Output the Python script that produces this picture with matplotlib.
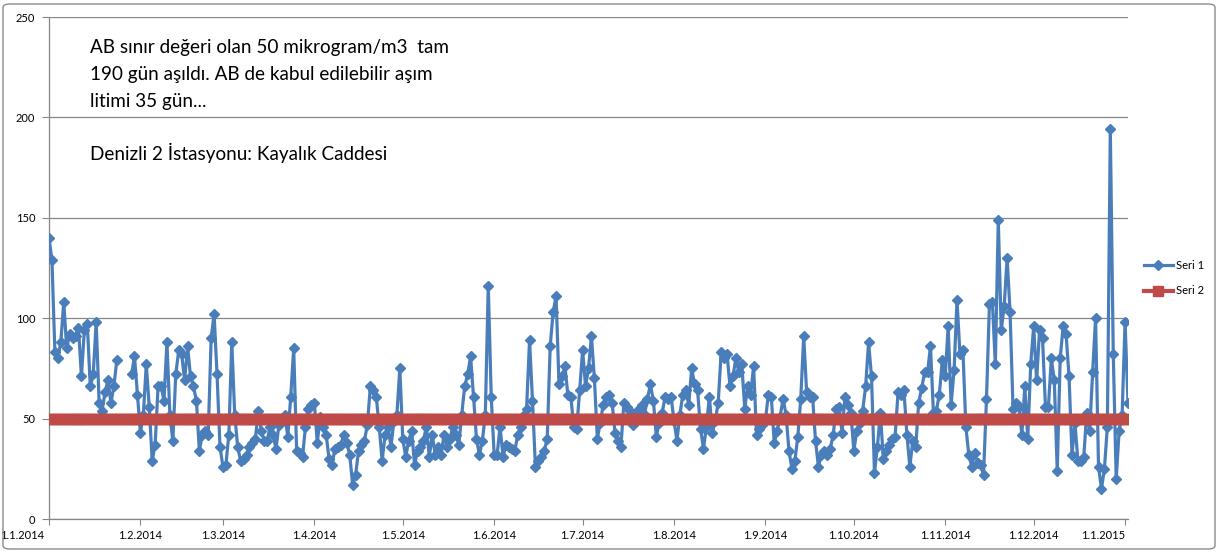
import datetime as dt
import numpy as np
import matplotlib
matplotlib.use("Agg")
import matplotlib.pyplot as plt
import matplotlib.dates as mdates
import matplotlib.transforms as mtransforms
from matplotlib.patches import FancyBboxPatch

# daily PM10 values (ug/m3); None = no data
pm_jan14 = [140, 129, 83, 80, 88, 108, 85, 92, 90, 91, 95, 71, 94, 97, 66, 72, 98, 58, 54, 63,
            69, 58, 66, 79, None, None, None, None, 72, 81, 62]
pm_feb14 = [43, 52, 77, 56, 29, 37, 66, 66, 59, 88, 52, 39, 72, 84, 82, 69, 86, 71, 66, 59,
            34, 42, 44, 42, 90, 102, 72, 36]
pm_mar14 = [26, 27, 42, 88, 52, 36, 29, 30, 32, 36, 38, 40, 54, 44, 39, 39, 46, 42, 35, 47,
            50, 52, 41, 61, 85, 34, 33, 31, 46, 55, 57]
pm_apr14 = [58, 38, 51, 46, 42, 30, 27, 35, 36, 37, 42, 38, 32, 17, 22, 34, 37, 39, 47, 66,
            64, 61, 46, 29, 42, 46, 36, 49, 52, 75]
pm_may14 = [40, 31, 39, 44, 27, 34, 36, 39, 46, 31, 42, 32, 36, 32, 42, 36, 40, 46, 42, 37,
            52, 66, 72, 81, 61, 40, 32, 39, 52, 116, 61]
pm_jun14 = [32, 32, 46, 31, 37, 36, 35, 34, 42, 46, 52, 55, 89, 59, 26, 29, 31, 34, 40, 86,
            103, 111, 67, 71, 76, 62, 61, 46, 45, 64]
pm_jul14 = [84, 66, 75, 91, 70, 40, 48, 57, 61, 62, 58, 43, 39, 36, 58, 56, 54, 47, 53, 55,
            57, 52, 60, 67, 59, 41, 48, 53, 61, 60, 61]
pm_aug14 = [49, 39, 52, 62, 64, 57, 75, 67, 64, 45, 35, 46, 61, 43, 49, 58, 83, 80, 82, 66,
            71, 80, 73, 77, 55, 66, 62, 76, 42, 45, 47]
pm_sep14 = [49, 62, 61, 38, 44, 51, 60, 52, 34, 25, 29, 41, 60, 91, 63, 61, 61, 39, 26, 32,
            34, 32, 35, 42, 55, 56, 43, 61, 57, 53]
pm_oct14 = [34, 44, 48, 54, 66, 88, 71, 23, 36, 53, 30, 34, 37, 40, 41, 63, 62, 64, 42, 26,
            39, 36, 58, 65, 73, 73, 86, 53, 54, 62, 79]
pm_nov14 = [71, 96, 57, 74, 109, 82, 84, 46, 32, 26, 33, 28, 27, 22, 60, 107, 108, 77, 149, 94,
            106, 130, 103, 55, 58, 56, 42, 66, 40, 77]
pm_dec14 = [96, 69, 94, 90, 56, 56, 80, 69, 24, 80, 96, 92, 71, 32, 48, 29, 29, 31, 53, 44,
            73, 100, 26, 15, 25, 46, 194, 82, 20, 44, 52]
pm_jan15 = [98, 58]

limit_value = 50  # EU daily limit (Seri 2)

text_lines = ["AB sınır değeri olan 50 mikrogram/m3  tam",
              "190 gün aşıldı. AB de kabul edilebilir aşım",
              "litimi 35 gün..."]
station = "Denizli 2 İstasyonu: Kayalık Caddesi"

values = (pm_jan14 + pm_feb14 + pm_mar14 + pm_apr14 + pm_may14 + pm_jun14 + pm_jul14 +
          pm_aug14 + pm_sep14 + pm_oct14 + pm_nov14 + pm_dec14 + pm_jan15)
start = dt.date(2014, 1, 1)
days = [start + dt.timedelta(days=i) for i in range(len(values))]
seri1 = np.array([np.nan if v is None else v for v in values], dtype=float)
seri2 = np.full(len(days), limit_value)

plt.rcParams['font.family'] = ['Lato', 'DejaVu Sans']

W, H = 1219, 552
fig = plt.figure(figsize=(W / 100, H / 100), dpi=100)
fig.patches.append(FancyBboxPatch((3 / W, 3 / H), 1 - 7 / W, 1 - 7 / H,
                                  boxstyle='round,pad=0,rounding_size=0.006',
                                  transform=fig.transFigure, fill=False,
                                  edgecolor='#8c8c8c', lw=1))

ax = fig.add_axes([49 / W, 1 - 519 / H, (1128 - 49) / W, (519 - 17) / H])
ax.plot(days, seri1, color='#4a7ebb', lw=2.3, marker='D', ms=5, zorder=3, label='Seri 1')
ax.plot(days, seri2, color='#be4b48', lw=3, marker='s', ms=7.8, zorder=4, label='Seri 2')

ax.set_ylim(0, 250)
ax.set_yticks(range(0, 251, 50))
ax.set_xlim(mdates.date2num(days[0]), mdates.date2num(days[-1]))
ax.xaxis.set_major_locator(mdates.MonthLocator(bymonthday=1))
ax.xaxis.set_major_formatter(plt.FuncFormatter(
    lambda x, pos: (lambda d: f"{d.day}.{d.month}.{d.year}")(mdates.num2date(x))))

ax.grid(axis='y', color='#868686', lw=0.9)
ax.set_axisbelow(True)
for s in ['top', 'right']:
    ax.spines[s].set_visible(False)
for s in ['left', 'bottom']:
    ax.spines[s].set_color('#868686')
    ax.spines[s].set_linewidth(0.9)
ax.tick_params(axis='y', length=5, color='#868686', labelsize=8, pad=5)
ax.tick_params(axis='x', length=4, color='#868686', labelsize=8, pad=4)

# Excel pushes the first and last date labels to the left of their ticks
fig.canvas.draw()
xlabels = ax.get_xticklabels()
shift = mtransforms.ScaledTranslation(-5 / 100, 0, fig.dpi_scale_trans)
xlabels[0].set_ha('right')
xlabels[0].set_transform(xlabels[0].get_transform() + shift)
xlabels[-1].set_ha('right')

for i, line in enumerate(text_lines):
    fig.text(90 / W, 1 - (48 + i * 26.5) / H, line, fontsize=13.6, va='center', ha='left')
fig.text(90 / W, 1 - 153 / H, station, fontsize=13.6, va='center', ha='left')

fig.legend(loc='upper left', bbox_to_anchor=(1144 / W, 1 - 260 / H), frameon=False,
           fontsize=8, handlelength=2.6, labelspacing=1.3, handletextpad=0.3,
           borderaxespad=0, borderpad=0)

fig.savefig('out.png', dpi=100)
